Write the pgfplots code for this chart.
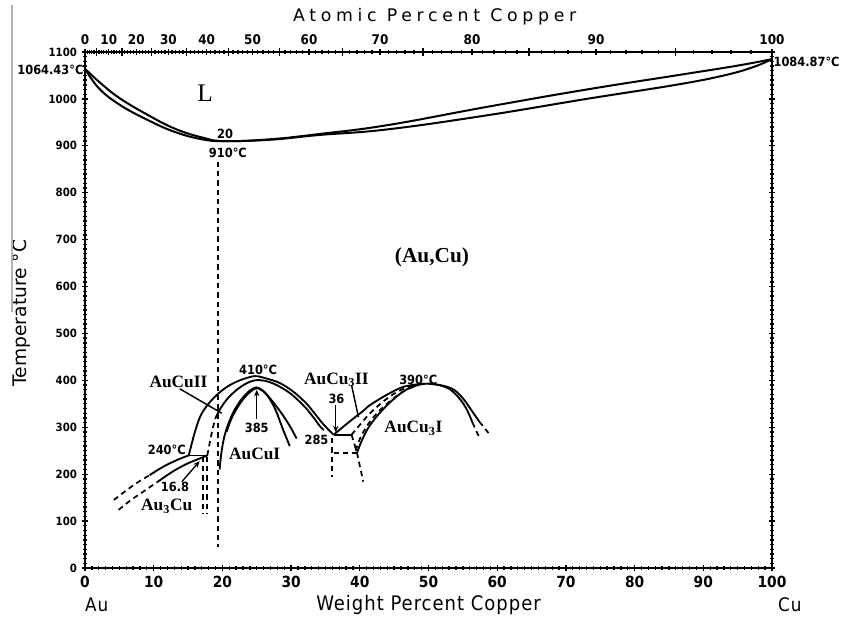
\documentclass[border=0pt]{standalone}
\usepackage{pgfplots}
\pgfplotsset{compat=1.18}
\usetikzlibrary{arrows.meta}
\usepackage{fontspec}
\setmainfont{DejaVu Sans}
\newfontfamily\cond{DejaVu Sans Condensed}
\newfontfamily\condwide[LetterSpace=5]{DejaVu Sans Condensed}
\newfontfamily\widesans[LetterSpace=27]{DejaVu Sans}
\newfontfamily\serifL{Liberation Serif}
\newcommand\addtolist[2]{\ifx#1\empty\xdef#1{#2}\else\xdef#1{#1,#2}\fi}
\tikzset{
  sc/.style={black, line width=1.4pt, smooth, tension=0.55},
  dc/.style={black, line width=1.3pt, dash pattern=on 4pt off 3pt, smooth, tension=0.55},
  sl/.style={black, line width=1.3pt},
  dl/.style={black, line width=1.3pt, dash pattern=on 4pt off 3pt},
  num/.style={font=\cond\bfseries\fontsize{9.5}{10}\selectfont, inner sep=1pt},
  ph/.style={font=\serifL\bfseries\fontsize{13}{15}\selectfont, inner sep=1pt},
}
\begin{document}
\begin{tikzpicture}
\path[use as bounding box] (-63.75pt,-38.25pt) rectangle (567pt,426pt);
\def\mlist{}\def\flist{}\def\tlist{0}
\foreach \a in {10,20,...,90}{\pgfmathparse{100/(1+3.09945*(100-\a)/\a)}\xdef\tlist{\tlist,\pgfmathresult}}
\xdef\tlist{\tlist,100}
\foreach \a in {5,15,...,95}{\pgfmathparse{100/(1+3.09945*(100-\a)/\a)}\addtolist\flist{\pgfmathresult}}
\foreach \a in {1,...,99}{\pgfmathparse{100/(1+3.09945*(100-\a)/\a)}\addtolist\mlist{\pgfmathresult}}
\begin{axis}[
  at={(0,0)}, anchor=south west, scale only axis,
  width=515.25pt, height=387pt,
  xmin=0, xmax=100, ymin=0, ymax=1100, clip=false,
  axis line style={line width=1.2pt},
  xtick={0,10,...,100}, minor x tick num=9,
  ytick={0,100,...,1100}, minor y tick num=9,
  xtick pos=left,
  tick align=center,
  major tick length=5pt, minor tick length=2.5pt,
  tick style={line width=1pt, black},
  xticklabel style={font=\cond\bfseries\fontsize{11.5}{12}\selectfont},
  yticklabel style={font=\cond\bfseries\fontsize{8.5}{10}\selectfont},
  /pgf/number format/assume math mode=true,
  /pgf/number format/1000 sep={},
]
% liquidus and solidus
\addplot[black, line width=1.5pt, smooth, tension=0.7] coordinates {(0,1064.43)(2,1037)(5,1002)(9,967)(13,937)(17,918)(20.3,910)(27,914)(34,925)(44,944)(58.5,983)(73,1020)(86,1050)(95,1071)(100,1084.87)};
\addplot[black, line width=1.5pt, smooth, tension=0.7] coordinates {(0,1064.43)(2,1023)(5,988)(9,956)(13,930)(17,914)(20.3,910)(27,913)(34,923)(44,935)(58.5,965)(73,1000)(86,1030)(93,1050)(97.3,1068)(100,1084.87)};
% dashed vertical at minimum
\addplot[dl] coordinates {(19.4,866)(19.4,45)};
% AuCuII outer dome
\addplot[sc] coordinates {(15.1,240)(15.9,285)(16.74,322)(17.7,345)(18.7,362)(19.9,378)(21.1,390)(22.7,401)(24.7,409)(26.4,404)(28.4,394)(30.4,375)(32.2,351)(33.4,330)(34.6,308)(35.5,294)(36.2,284)};
% AuCuII inner line
\addplot[dc] coordinates {(17.8,240)(18.2,270)(18.6,298)(19.0,320)};
\addplot[sc] coordinates {(19.0,320)(19.8,342)(20.8,362)(22.1,380)(23.3,392)(24.7,400)(26.2,399)(27.9,390)(29.9,372)(31.9,345)(33.2,322)(34.2,302)};
\addplot[dl] coordinates {(34.2,302)(35.0,290)};
% AuCuI dome
\addplot[sc] coordinates {(19.6,210)(19.8,240)(20.2,275)(20.8,305)(21.7,335)(22.8,360)(23.9,377)(24.9,385)(25.9,378)(26.9,360)(27.8,335)(28.7,300)(29.8,260)};
\addplot[sc] coordinates {(20.6,290)(21.3,318)(22.3,345)(23.5,368)(24.9,383)(26.1,375)(27.3,355)(28.6,330)(29.8,303)(30.8,276)};
% Au3Cu
\addplot[dc] coordinates {(4.2,145)(5.8,163)(7.5,181)(9.4,198)};
\addplot[sc] coordinates {(9.4,198)(11.4,216)(13.5,231)(15.1,240)};
\addplot[dc] coordinates {(4.9,124)(6.7,145)(8.7,165)(10.6,184)};
\addplot[sc] coordinates {(10.6,184)(12.7,205)(14.8,222)(16.8,234)(17.8,240)};
\addplot[sl] coordinates {(15.1,240)(17.9,240)};
\addplot[dl] coordinates {(17.2,237)(17.2,115)};
\addplot[dl] coordinates {(17.8,237)(17.8,115)};
% AuCu3
\addplot[sc] coordinates {(36.2,284)(37.5,300)(39.1,319)(40.5,335)(41.5,347.5)(43.9,369)(46.3,386)(48.7,392)(49.5,392.5)};
\addplot[dc] coordinates {(38.8,284)(40,305)(41.5,330)(43.5,356)(45.5,376)(47.5,388)(48.7,391)};
\addplot[dc] coordinates {(39.4,250)(40,275)(41,302)(42.5,330)(44.5,357)(46.5,378)(48.5,390)};
\addplot[sc] coordinates {(39.6,246)(40.3,272)(41.2,298)(42.4,322)(43.9,346)(45.4,366)(47,382)(48.7,391)(50,393)(51.5,390)(53,382)(54.3,365)(55.5,340)(56.4,310)};
\addplot[dl] coordinates {(56.4,310)(57.4,278)};
\addplot[sc] coordinates {(50,393)(52,389)(53.7,380)(55.1,360)(56.4,333)(57.4,312)};
\addplot[dl] coordinates {(57.4,312)(59.0,283)};
\addplot[sl] coordinates {(36.2,284)(38.8,284)};
\addplot[dl] coordinates {(38.8,284)(39.6,245)(40.5,184)};
\addplot[dl] coordinates {(35.9,277)(35.9,195)};
\addplot[dl] coordinates {(36.2,245)(39.6,245)};
% leaders and arrows
\draw[line width=1.1pt] (axis cs:13.8,382) -- (axis cs:19.9,330);
\draw[line width=1.1pt] (axis cs:38.8,390) -- (axis cs:39.8,322);
\draw[line width=1pt,-{Stealth[length=5pt,width=4pt]}] (axis cs:25.0,318) -- (axis cs:25.0,380);
\draw[line width=1pt,-{Stealth[length=5pt,width=4pt]}] (axis cs:36.5,347) -- (axis cs:36.5,289);
\draw[line width=1pt,-{Stealth[length=5pt,width=4pt]}] (axis cs:14.1,184) -- (axis cs:16.7,228);
% labels
\node[font=\serifL\fontsize{19}{20}\selectfont] at (axis cs:17.5,1013) {L};
\node[num] at (axis cs:20.4,926) {20};
\node[num] at (axis cs:20.8,884) {910°C};
\node[font=\serifL\bfseries\fontsize{16}{18}\selectfont] at (axis cs:50.5,663) {(Au,Cu)};
\node[ph] at (axis cs:13.6,397) {AuCuII};
\node[num] at (axis cs:25.2,422) {410°C};
\node[num] at (axis cs:25.0,298) {385};
\node[ph] at (axis cs:24.7,244) {AuCuI};
\node[num] at (axis cs:33.7,273) {285};
\node[ph] at (axis cs:36.6,401) {AuCu\textsubscript{3}II};
\node[num] at (axis cs:36.6,360) {36};
\node[num] at (axis cs:48.5,401) {390°C};
\node[ph] at (axis cs:47.8,298) {AuCu\textsubscript{3}I};
\node[num] at (axis cs:11.9,252) {240°C};
\node[num] at (axis cs:13.1,173) {16.8};
\node[ph] at (axis cs:11.9,131) {Au\textsubscript{3}Cu};
\node[num, anchor=east] at (axis cs:0,1062) {1064.43°C};
\node[num, anchor=west] at (axis cs:100,1078) {1084.87°C};
\node[font=\widesans\fontsize{13}{15}\selectfont] at (axis cs:50.9,1174.6) {Atomic Percent Copper};
\node[font=\condwide\fontsize{15}{17}\selectfont] at (axis cs:50.0,-79) {Weight Percent Copper};
\node[font=\condwide\fontsize{14}{16}\selectfont] at (axis cs:1.7,-79) {Au};
\node[font=\condwide\fontsize{14}{16}\selectfont] at (axis cs:102.6,-79) {Cu};
\node[font=\fontsize{14}{16}\selectfont, rotate=90] at (axis cs:-9.2,543.6) {Temperature °C};
\end{axis}
\begin{axis}[
  at={(0,0)}, anchor=south west, scale only axis,
  width=515.25pt, height=387pt,
  xmin=0, xmax=100, ymin=0, ymax=1,
  axis x line*=top, axis y line=none,
  axis line style={line width=1.2pt},
  xtick/.expanded={\tlist},
  xticklabels={0,10,20,30,40,50,60,70,80,90,100},
  minor xtick/.expanded={\mlist},
  extra x ticks/.expanded={\flist}, extra x tick labels={},
  extra x tick style={major tick length=6pt},
  tick align=center, major tick length=4pt, minor tick length=2.5pt,
  tick style={line width=1pt, black},
  xticklabel style={font=\cond\bfseries\fontsize{10}{11}\selectfont},
]
\end{axis}
\draw[gray!60, line width=1pt] (-54.75pt,192pt) -- (-54.75pt,422pt);
\end{tikzpicture}
\end{document}
